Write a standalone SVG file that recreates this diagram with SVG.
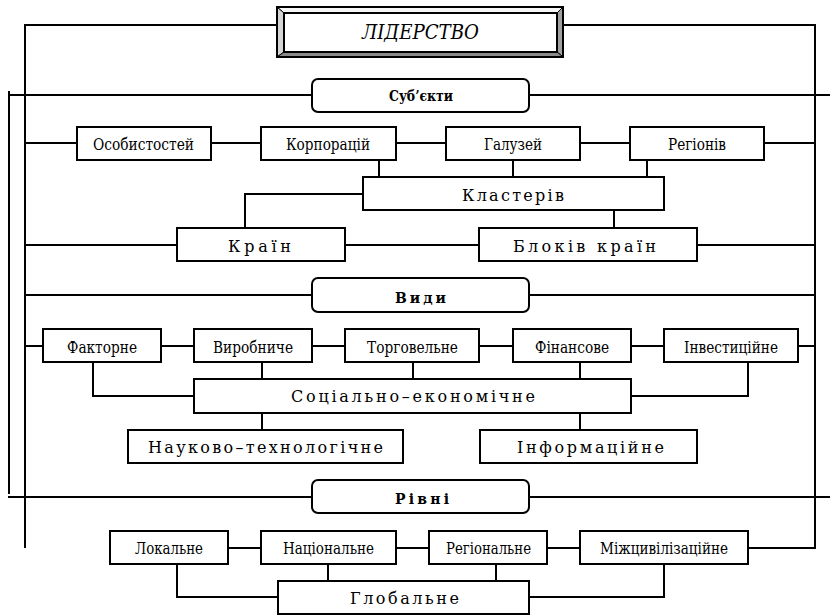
<svg xmlns="http://www.w3.org/2000/svg" width="830" height="615" viewBox="0 0 830 615">
<style>
.b{fill:#fff;stroke:#000;stroke-width:2}
.r{fill:#fff;stroke:#000;stroke-width:2}
.c{fill:none;stroke:#000;stroke-width:2}
text{font-family:'DejaVu Serif','Liberation Serif',serif;fill:#000}
.t{font-size:16px}
.s{font-size:16px}
.h{font-size:14px;font-weight:bold}
.ti{font-size:20px;font-style:italic}
</style>
<rect width="830" height="615" fill="#fff"/>
<g id="connectors">
<path class="c" d="M25,548 V25 H277 M563,25 H815 V548 H748"/>
<path class="c" d="M9,91 V494"/>
<path class="c" d="M8,95 H312 M529,95 H830"/>
<path class="c" d="M8,497 H312 M529,497 H830"/>
<path class="c" d="M25,143 H77 M211,143 H261 M396,143 H446 M580,143 H630 M764,143 H815"/>
<path class="c" d="M379,160 V177 M513,160 V177 M647,160 V177"/>
<path class="c" d="M363,194 H245 V228 M614,210 V228"/>
<path class="c" d="M25,245 H177 M345,245 H479 M697,245 H815"/>
<path class="c" d="M25,295 H312 M529,295 H815"/>
<path class="c" d="M25,346 H43 M161,346 H194 M312,346 H345 M479,346 H513 M631,346 H664 M798,346 H815"/>
<path class="c" d="M93,362 V396 H194 M262,362 V379 M413,362 V379 M580,362 V379 M748,362 V396 H631"/>
<path class="c" d="M262,413 V430 M580,413 V430"/>
<path class="c" d="M228,548 H261 M396,548 H429 M547,548 H580"/>
<path class="c" d="M177,564 V597 H278 M328,564 V581 M496,564 V581 M664,564 V597 H529"/>
</g>
<g id="title">
<polygon points="277,7 563,7 557,13 284,13" fill="#f6f6f6" stroke="#000" stroke-width="1"/>
<polygon points="277,7 284,13 284,52 277,57" fill="#d4d4d4" stroke="#000" stroke-width="1"/>
<polygon points="563,7 563,57 557,52 557,13" fill="#a0a0a0" stroke="#000" stroke-width="1"/>
<polygon points="277,57 284,52 557,52 563,57" fill="#8a8a8a" stroke="#000" stroke-width="1"/>
<rect x="284" y="13" width="273" height="39" fill="#fff" stroke="#000" stroke-width="2"/>
<rect x="277" y="7" width="286" height="50" fill="none" stroke="#000" stroke-width="2"/>
<text class="ti" x="362" y="39" textLength="117" lengthAdjust="spacingAndGlyphs">ЛІДЕРСТВО</text>
</g>
<g id="subjects"><rect class="r" x="312" y="79" width="217" height="33" rx="6"/><text class="h" x="389" y="101" textLength="64" lengthAdjust="spacingAndGlyphs">Суб’єкти</text></g>
<g id="osobystostei"><rect class="b" x="77" y="127" width="134" height="33"/><text class="t" x="93" y="150" textLength="101" lengthAdjust="spacingAndGlyphs">Особистостей</text></g>
<g id="korporatsii"><rect class="b" x="261" y="127" width="135" height="33"/><text class="t" x="286" y="150" textLength="84" lengthAdjust="spacingAndGlyphs">Корпорацій</text></g>
<g id="haluzei"><rect class="b" x="446" y="127" width="134" height="33"/><text class="t" x="484" y="150" textLength="58" lengthAdjust="spacingAndGlyphs">Галузей</text></g>
<g id="rehioniv"><rect class="b" x="630" y="127" width="134" height="33"/><text class="t" x="668" y="150" textLength="58" lengthAdjust="spacingAndGlyphs">Регіонів</text></g>
<g id="klasteriv"><rect class="b" x="363" y="177" width="301" height="33"/><text class="s" x="462" y="201" textLength="102" lengthAdjust="spacing">Кластерів</text></g>
<g id="krain"><rect class="b" x="177" y="228" width="168" height="33"/><text class="s" x="228" y="252" textLength="63" lengthAdjust="spacing">Країн</text></g>
<g id="blokiv"><rect class="b" x="479" y="228" width="218" height="33"/><text class="s" x="513" y="252" textLength="143" lengthAdjust="spacing">Блоків країн</text></g>
<g id="vydy"><rect class="r" x="312" y="278" width="217" height="34" rx="6"/><text class="h" x="395" y="303" textLength="51" lengthAdjust="spacing">Види</text></g>
<g id="faktorne"><rect class="b" x="43" y="329" width="118" height="33"/><text class="t" x="67" y="353" textLength="70" lengthAdjust="spacingAndGlyphs">Факторне</text></g>
<g id="vyrobnyche"><rect class="b" x="194" y="329" width="118" height="33"/><text class="t" x="213" y="353" textLength="80" lengthAdjust="spacingAndGlyphs">Виробниче</text></g>
<g id="torhovelne"><rect class="b" x="345" y="329" width="134" height="33"/><text class="t" x="367" y="353" textLength="91" lengthAdjust="spacingAndGlyphs">Торговельне</text></g>
<g id="finansove"><rect class="b" x="513" y="329" width="118" height="33"/><text class="t" x="535" y="353" textLength="74" lengthAdjust="spacingAndGlyphs">Фінансове</text></g>
<g id="investytsiine"><rect class="b" x="664" y="329" width="134" height="33"/><text class="t" x="684" y="353" textLength="94" lengthAdjust="spacingAndGlyphs">Інвестиційне</text></g>
<g id="sotsialno"><rect class="b" x="194" y="379" width="437" height="34"/><text class="s" x="291" y="402" textLength="244" lengthAdjust="spacing">Соціально–економічне</text></g>
<g id="naukovo"><rect class="b" x="128" y="430" width="275" height="33"/><text class="s" x="148" y="453" textLength="235" lengthAdjust="spacing">Науково–технологічне</text></g>
<g id="informatsiine"><rect class="b" x="480" y="430" width="217" height="33"/><text class="s" x="517" y="453" textLength="147" lengthAdjust="spacing">Інформаційне</text></g>
<g id="rivni"><rect class="r" x="312" y="480" width="217" height="33" rx="6"/><text class="h" x="395" y="504" textLength="54" lengthAdjust="spacing">Рівні</text></g>
<g id="lokalne"><rect class="b" x="110" y="531" width="118" height="33"/><text class="t" x="135" y="554" textLength="68" lengthAdjust="spacingAndGlyphs">Локальне</text></g>
<g id="natsionalne"><rect class="b" x="261" y="531" width="135" height="33"/><text class="t" x="283" y="554" textLength="91" lengthAdjust="spacingAndGlyphs">Національне</text></g>
<g id="rehionalne"><rect class="b" x="429" y="531" width="118" height="33"/><text class="t" x="446" y="554" textLength="85" lengthAdjust="spacingAndGlyphs">Регіональне</text></g>
<g id="mizhtsyvilizatsiine"><rect class="b" x="580" y="531" width="168" height="33"/><text class="t" x="600" y="554" textLength="128" lengthAdjust="spacingAndGlyphs">Міжцивілізаційне</text></g>
<g id="hlobalne"><rect class="b" x="278" y="581" width="251" height="33"/><text class="s" x="350" y="604" textLength="109" lengthAdjust="spacing">Глобальне</text></g>
</svg>
